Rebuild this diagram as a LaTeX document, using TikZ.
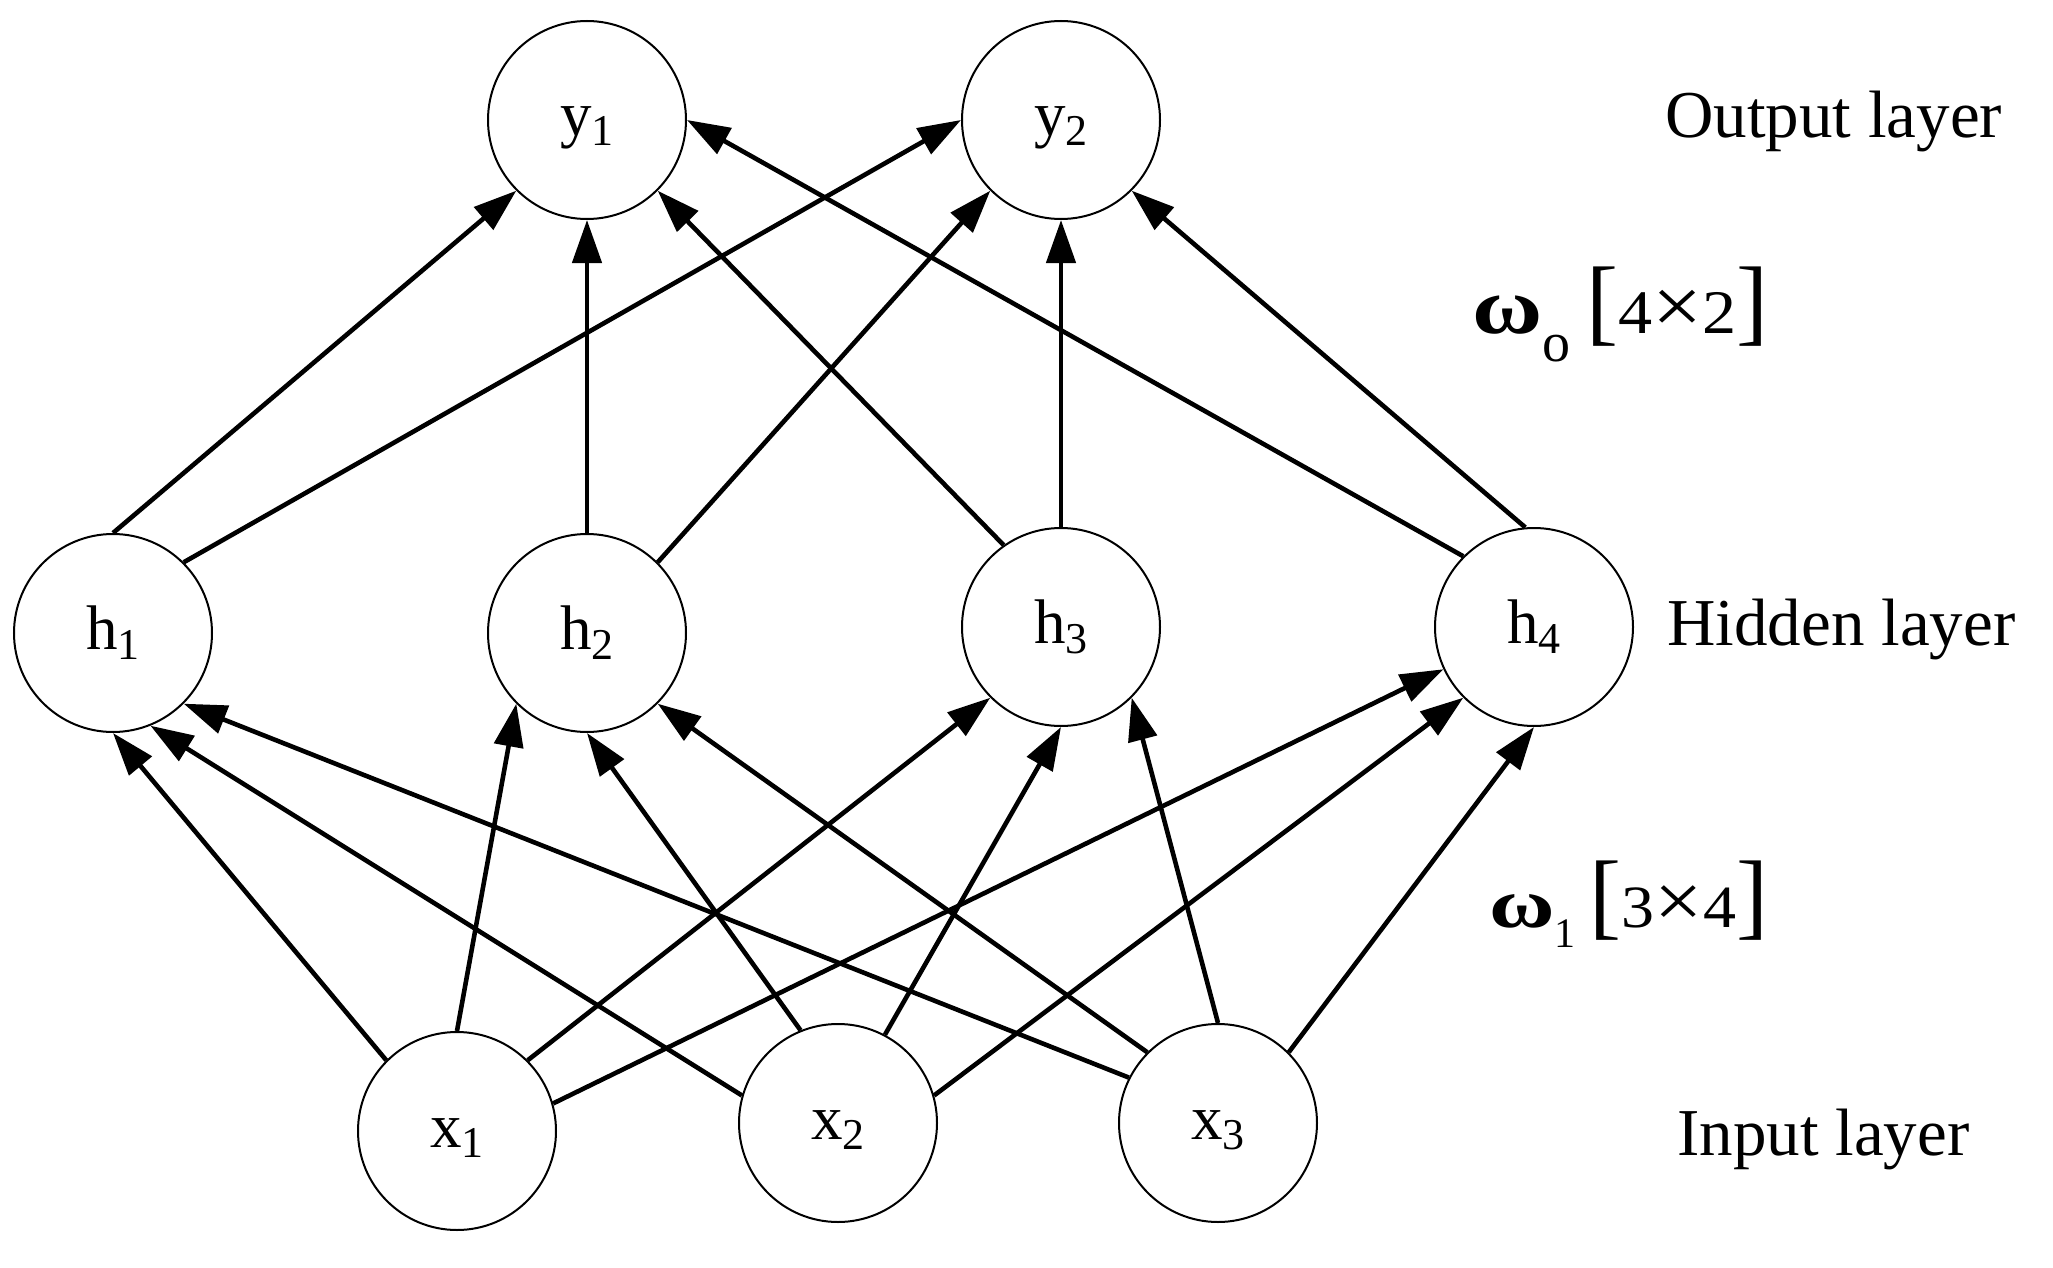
\documentclass[tikz,border=0pt]{standalone}
\usepackage{fontspec}
\setmainfont{Liberation Serif}
\usepackage{graphicx}
\usetikzlibrary{arrows.meta}
\newcommand{\nsub}[1]{\raisebox{-5pt}{\fontsize{22pt}{22pt}\selectfont #1}}
\newcommand{\bigtimes}{\scalebox{1.3}{×}}
\begin{document}
\begin{tikzpicture}[x=0.5pt,y=-0.5pt,
  neuron/.style={circle, draw, line width=1pt, minimum size=99pt, inner sep=0pt,
    font=\fontsize{31.5pt}{31.5pt}\selectfont, text height=21.5pt, text depth=5.5pt},
  conn/.style={line width=2.3pt, -{Triangle[length=21.5pt,width=14.5pt]}},
  layerlabel/.style={anchor=base west, inner sep=0pt, font=\fontsize{33.5pt}{33.5pt}\selectfont},
  weightlabel/.style={anchor=base west, inner sep=0pt}]
\useasboundingbox (0,0) rectangle (2053,1268);
% output layer
\node[neuron] (y1) at (587,120) {y\nsub{1}};
\node[neuron] (y2) at (1061,120) {y\nsub{2}};
% hidden layer
\node[neuron] (h1) at (113,633) {h\nsub{1}};
\node[neuron] (h2) at (587,633) {h\nsub{2}};
\node[neuron] (h3) at (1061,627) {h\nsub{3}};
\node[neuron] (h4) at (1534,627) {h\nsub{4}};
% input layer
\node[neuron] (x1) at (457,1131) {x\nsub{1}};
\node[neuron] (x2) at (838,1123) {x\nsub{2}};
\node[neuron] (x3) at (1218,1123) {x\nsub{3}};
% hidden -> output
\draw[conn] (h1.north) -- (y1.south west);
\draw[conn] (h1.north east) -- (y2.west);
\draw[conn] (h2.north) -- (y1.south);
\draw[conn] (h2.north east) -- (y2.south west);
\draw[conn] (h3.125) -- (y1.south east);
\draw[conn] (h3.north) -- (y2.south);
\draw[conn] (h4.north west) -- (y1.east);
\draw[conn] (h4.95) -- (y2.south east);
% input -> hidden
\draw[conn] (x1.north west) -- (h1.south);
\draw[conn] (x1.north) -- (h2.south west);
\draw[conn] (x1.north east) -- (h3.south west);
\draw[conn] (x1.16) -- (h4.205);
\draw[conn] (x2.164) -- (h1.292);
\draw[conn] (x2.112) -- (h2.south);
\draw[conn] (x2.62) -- (h3.south);
\draw[conn] (x2.16) -- (h4.south west);
\draw[conn] (x3.153) -- (h1.south east);
\draw[conn] (x3.north west) -- (h2.south east);
\draw[conn] (x3.north) -- (h3.south east);
\draw[conn] (x3.north east) -- (h4.south);
% layer labels
\node[layerlabel] (lout) at (1665,138) {Output layer};
\node[layerlabel] (lhid) at (1667,645) {Hidden layer};
\node[layerlabel] (lin) at (1677,1155) {Input layer};
% weight labels
\node[weightlabel] (wo) at (1472,333)
  {{\bfseries\fontsize{40pt}{40pt}\selectfont\scalebox{1.2}[1]{ω}}\raisebox{-14pt}{\fontsize{28pt}{28pt}\selectfont o}\hspace{8pt}{\fontsize{48pt}{48pt}\selectfont[}{\fontsize{31pt}{31pt}\selectfont\scalebox{1.1}[1]{4\bigtimes 2}}{\fontsize{48pt}{48pt}\selectfont]}};
\node[weightlabel] (wi) at (1489,927)
  {{\bfseries\fontsize{35pt}{35pt}\selectfont\scalebox{1.28}[1]{ω}}\raisebox{-10pt}{\fontsize{21pt}{21pt}\selectfont 1}\hspace{7pt}{\fontsize{48pt}{48pt}\selectfont[}{\fontsize{30pt}{30pt}\selectfont\scalebox{1.1}[1]{3\bigtimes 4}}{\fontsize{48pt}{48pt}\selectfont]}};
\end{tikzpicture}
\end{document}
